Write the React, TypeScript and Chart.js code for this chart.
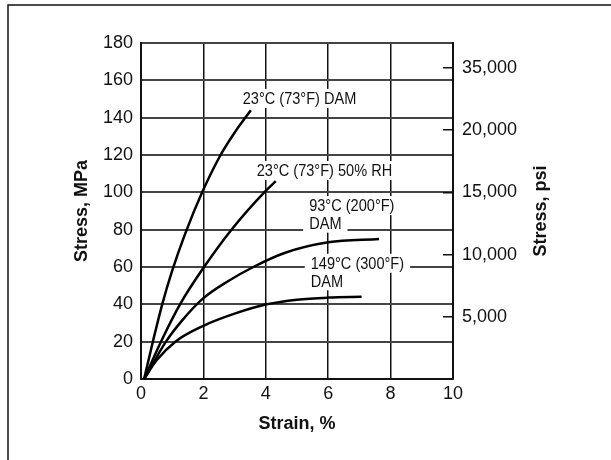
import React, { useEffect, useRef } from "react";
import { Chart, registerables } from "chart.js";

Chart.register(...registerables);

// ---- data ----
const STRAIN_MIN = 0;
const STRAIN_MAX = 10;
const STRAIN_STEP = 2;
const MPA_MIN = 0;
const MPA_MAX = 180;
const MPA_STEP = 20;
const PSI_MAX = 27000;
const PSI_TICKS = [5000, 10000, 15000, 20000, 25000];
const PSI_LABELS = ["5,000", "10,000", "15,000", "20,000", "35,000"];

const STRAIN_23_DAM = [0.1, 0.38, 0.68, 1.0, 1.42, 1.96, 2.55, 3.0, 3.52];
const STRESS_23_DAM = [0, 20, 40, 58, 78, 100, 120, 132, 144];

const STRAIN_23_RH = [0.1, 0.64, 1.25, 2.02, 2.9, 3.95, 4.32];
const STRESS_23_RH = [0, 20, 40, 60, 80, 100, 106];

const STRAIN_93_DAM = [0.1, 0.8, 1.3, 2, 2.8, 3.6, 4.6, 6, 7.63];
const STRESS_93_DAM = [0, 20, 31, 43.3, 52.5, 60, 67.5, 73.2, 75];

const STRAIN_149_DAM = [0.1, 0.5, 1.1, 2, 3, 4.03, 5, 6, 7.07];
const STRESS_149_DAM = [0, 10, 20, 28.5, 35, 40, 42.5, 43.6, 44];

const SERIES_NAMES = ["23°C (73°F) DAM", "23°C (73°F) 50% RH", "93°C (200°F) DAM", "149°C (300°F) DAM"];

// curve annotations: text lines with anchor (strain, stress) of each line
const ANNOTATIONS = [
  { lines: ["23°C (73°F) DAM"], x: 3.26, y: [150.3] },
  { lines: ["23°C (73°F) 50% RH"], x: 3.71, y: [111.7] },
  { lines: ["93°C (200°F)", "DAM"], x: 5.39, y: [92.9, 83.5] },
  { lines: ["149°C (300°F)", "DAM"], x: 5.44, y: [62.0, 52.6] },
];

const FONT = "'Liberation Sans', Arial, Helvetica, sans-serif";

const toPoints = (xs: number[], ys: number[]) => xs.map((x, i) => ({ x, y: ys[i] }));

const annotationPlugin = {
  id: "curveLabels",
  beforeDatasetsDraw(chart: any) {
    const { ctx, scales } = chart;
    const xs = scales.x;
    const ys = scales.y;
    const fs = 16;
    const squeeze = 0.91;
    ctx.save();
    ctx.font = `${fs}px ${FONT}`;
    ctx.textBaseline = "alphabetic";
    ctx.textAlign = "left";
    ANNOTATIONS.forEach((a) => {
      a.lines.forEach((line, i) => {
        const px = xs.getPixelForValue(a.x);
        const py = ys.getPixelForValue(a.y[i]);
        const w = ctx.measureText(line).width * squeeze;
        ctx.fillStyle = "#fff";
        ctx.fillRect(px - 6, py - 9.5, w + 12, 19);
        ctx.save();
        ctx.translate(px, py + fs * 0.358);
        ctx.scale(squeeze, 1);
        ctx.fillStyle = "#111";
        ctx.fillText(line, 0, 0);
        ctx.restore();
      });
    });
    ctx.restore();
  },
  afterDraw(chart: any) {
    const { ctx, scales } = chart;
    const r = scales.yPsi;
    ctx.save();
    // right axis title, reading bottom to top
    ctx.font = `bold 18px ${FONT}`;
    ctx.fillStyle = "#111";
    ctx.textAlign = "center";
    ctx.textBaseline = "middle";
    ctx.translate(541.5, (r.top + r.bottom) / 2);
    ctx.rotate(-Math.PI / 2);
    ctx.fillText("Stress, psi", 0, 0);
    ctx.restore();
    // outer frame
    ctx.save();
    ctx.strokeStyle = "#111";
    ctx.lineWidth = 1.5;
    ctx.beginPath();
    ctx.moveTo(8, 460);
    ctx.lineTo(8, 5);
    ctx.lineTo(611, 5);
    ctx.stroke();
    ctx.restore();
  },
};

export default function App() {
  const ref = useRef<HTMLCanvasElement | null>(null);

  useEffect(() => {
    if (!ref.current) return;
    Chart.defaults.font.family = FONT;
    const line = (name: string, xs: number[], ys: number[]) => ({
      label: name,
      data: toPoints(xs, ys),
      borderColor: "#000",
      borderWidth: 2.5,
      pointRadius: 0,
      fill: false,
      cubicInterpolationMode: "monotone" as const,
    });
    const chart = new Chart(ref.current, {
      type: "line",
      data: {
        datasets: [
          line(SERIES_NAMES[0], STRAIN_23_DAM, STRESS_23_DAM),
          line(SERIES_NAMES[1], STRAIN_23_RH, STRESS_23_RH),
          line(SERIES_NAMES[2], STRAIN_93_DAM, STRESS_93_DAM),
          line(SERIES_NAMES[3], STRAIN_149_DAM, STRESS_149_DAM),
        ],
      },
      options: {
        responsive: false,
        animation: false,
        devicePixelRatio: 1,
        layout: { padding: { top: 43, left: 0, right: 0, bottom: 0 } },
        plugins: { legend: { display: false }, tooltip: { enabled: false } },
        scales: {
          x: {
            type: "linear",
            min: STRAIN_MIN,
            max: STRAIN_MAX,
            ticks: { stepSize: STRAIN_STEP, color: "#111", font: { size: 18 }, padding: 4 },
            grid: { color: "#111", lineWidth: 1.5, drawTicks: false },
            border: { color: "#111", width: 2 },
            title: {
              display: true,
              text: "Strain, %",
              color: "#111",
              font: { size: 18, weight: "bold" },
              padding: { top: 0, bottom: 25 },
            },
            afterFit: (s: any) => {
              s.height = 81;
            },
          },
          y: {
            type: "linear",
            position: "left",
            min: MPA_MIN,
            max: MPA_MAX,
            ticks: { stepSize: MPA_STEP, color: "#111", font: { size: 18 }, padding: 8 },
            grid: { color: "#444", lineWidth: 2, drawTicks: false },
            border: { color: "#111", width: 2 },
            title: {
              display: true,
              text: "Stress, MPa",
              color: "#111",
              font: { size: 18, weight: "bold" },
              padding: { top: 71, bottom: 0 },
            },
            afterFit: (s: any) => {
              s.width = 141;
            },
          },
          yPsi: {
            type: "linear",
            position: "right",
            min: 0,
            max: PSI_MAX,
            afterBuildTicks: (s: any) => {
              s.ticks = PSI_TICKS.map((v) => ({ value: v }));
            },
            ticks: {
              color: "#111",
              font: { size: 18 },
              padding: 19,
              callback: (v: any) => {
                const i = PSI_TICKS.indexOf(Number(v));
                return i >= 0 ? PSI_LABELS[i] : "";
              },
            },
            grid: { drawOnChartArea: false, drawTicks: true, tickLength: -10, color: "#111", lineWidth: 1.5 },
            border: { color: "#111", width: 2 },
            afterFit: (s: any) => {
              s.width = 158;
            },
          },
        },
      } as any,
      plugins: [annotationPlugin],
    });
    return () => chart.destroy();
  }, []);

  return (
    <div style={{ position: "absolute", left: 0, top: 0, width: 611, height: 460, background: "#fff" }}>
      <canvas ref={ref} width={611} height={460} style={{ display: "block", width: 611, height: 460 }} />
    </div>
  );
}
